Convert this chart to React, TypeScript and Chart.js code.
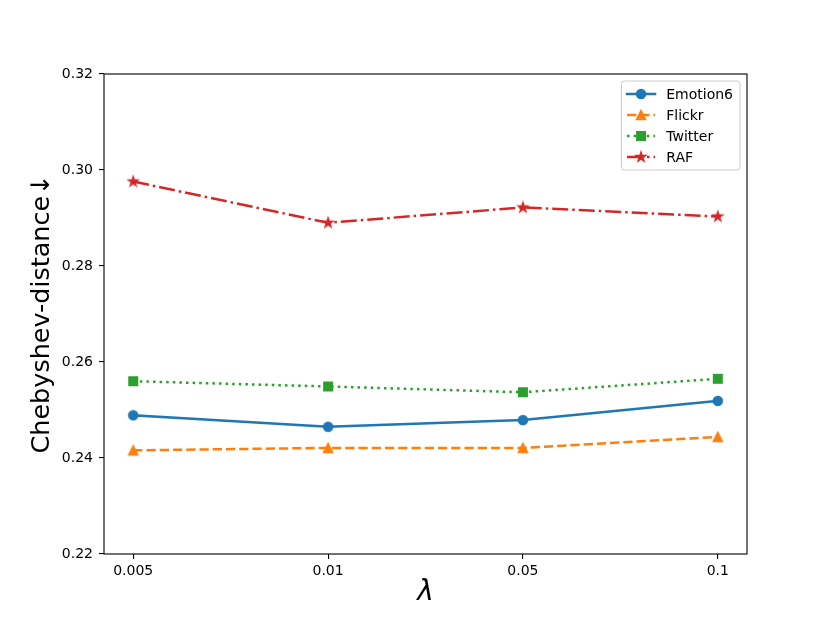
import React, { useEffect, useRef } from "react";
import { Chart, registerables } from "chart.js";

Chart.register(...registerables);

const lambdaLabels = ["0.005", "0.01", "0.05", "0.1"];
const yTickValues = [0.22, 0.24, 0.26, 0.28, 0.3, 0.32];
const emotion6 = [0.2489, 0.2465, 0.2479, 0.2519];
const flickr = [0.2416, 0.2421, 0.2421, 0.2444];
const twitter = [0.256, 0.2549, 0.2537, 0.2565];
const raf = [0.2976, 0.289, 0.2922, 0.2903];

const seriesNames = ["Emotion6", "Flickr", "Twitter", "RAF"];
const seriesColors = ["#1f77b4", "#ff7f0e", "#2ca02c", "#d62728"];
const seriesMarkers = ["circle", "triangle", "square", "star"];
const seriesDashes: number[][] = [[], [9.25, 4], [2.5, 4.1], [16, 4, 2.5, 4]];

const FONT = "'DejaVu Sans', sans-serif";
const LINE_W = 2.5;

function makeMarker(kind: string, color: string): HTMLCanvasElement {
  const S = 16;
  const c = document.createElement("canvas");
  c.width = S;
  c.height = S;
  const ctx = c.getContext("2d")!;
  const cx = S / 2;
  const cy = S / 2;
  ctx.fillStyle = color;
  ctx.strokeStyle = color;
  ctx.lineWidth = 1.4;
  ctx.lineJoin = "miter";
  ctx.beginPath();
  if (kind === "circle") {
    ctx.arc(cx, cy, 4.6, 0, Math.PI * 2);
  } else if (kind === "triangle") {
    const r = 4.6;
    ctx.moveTo(cx, cy - r);
    ctx.lineTo(cx - r, cy + r);
    ctx.lineTo(cx + r, cy + r);
    ctx.closePath();
  } else if (kind === "square") {
    const r = 4.3;
    ctx.rect(cx - r, cy - r, 2 * r, 2 * r);
  } else {
    const r = 5;
    const inner = r * 0.381966;
    for (let i = 0; i < 10; i++) {
      const rad = i % 2 === 0 ? r : inner;
      const a = -Math.PI / 2 + (i * Math.PI) / 5;
      const px = cx + rad * Math.cos(a);
      const py = cy + rad * Math.sin(a);
      if (i === 0) ctx.moveTo(px, py);
      else ctx.lineTo(px, py);
    }
    ctx.closePath();
  }
  ctx.fill();
  ctx.stroke();
  return c;
}

export default function App() {
  const ref = useRef<HTMLCanvasElement | null>(null);

  useEffect(() => {
    if (!ref.current) return;
    const values = [emotion6, flickr, twitter, raf];
    const markers = seriesMarkers.map((m, i) => makeMarker(m, seriesColors[i]));

    const datasets = values.map((vals, i) => ({
      label: seriesNames[i],
      data: vals.map((v, j) => ({ x: j, y: v })),
      borderColor: seriesColors[i],
      backgroundColor: seriesColors[i],
      borderWidth: LINE_W,
      borderDash: seriesDashes[i],
      borderCapStyle: (i === 0 ? "square" : "butt") as CanvasLineCap,
      borderJoinStyle: "round" as CanvasLineJoin,
      pointStyle: markers[i],
      pointRadius: 5,
      pointHoverRadius: 5,
      tension: 0,
      fill: false,
    }));

    const framePlugin = {
      id: "frame",
      afterDatasetsDraw(chart: any) {
        const { ctx, chartArea: a } = chart;
        ctx.save();
        ctx.strokeStyle = "#000";
        ctx.lineWidth = 1.1;
        ctx.strokeRect(a.left, a.top, a.right - a.left, a.bottom - a.top);
        ctx.restore();
      },
    };

    const legendPlugin = {
      id: "mplLegend",
      afterDraw(chart: any) {
        const { ctx, chartArea: a } = chart;
        ctx.save();
        ctx.font = `14px ${FONT}`;
        const maxW = Math.max(...seriesNames.map((n) => ctx.measureText(n).width));
        const padL = 5.6;
        const padR = 7;
        const handle = 28;
        const textPad = 11.2;
        const w = padL + handle + textPad + maxW + padR;
        const h = 89;
        const right = a.right - 7;
        const top = a.top + 7;
        const left = right - w;
        ctx.beginPath();
        if ((ctx as any).roundRect) (ctx as any).roundRect(left, top, w, h, 3);
        else ctx.rect(left, top, w, h);
        ctx.fillStyle = "rgba(255,255,255,0.8)";
        ctx.fill();
        ctx.strokeStyle = "#cccccc";
        ctx.lineWidth = 1;
        ctx.stroke();
        seriesNames.forEach((name, i) => {
          const y = top + 13 + i * 21;
          const x0 = left + padL;
          ctx.beginPath();
          ctx.setLineDash(seriesDashes[i]);
          ctx.lineCap = i === 0 ? "square" : "butt";
          ctx.strokeStyle = seriesColors[i];
          ctx.lineWidth = LINE_W;
          ctx.moveTo(x0, y);
          ctx.lineTo(x0 + handle, y);
          ctx.stroke();
          ctx.setLineDash([]);
          const m = markers[i];
          ctx.drawImage(m, x0 + handle / 2 - m.width / 2, y - m.height / 2);
          ctx.fillStyle = "#000";
          ctx.textBaseline = "middle";
          ctx.textAlign = "left";
          ctx.fillText(name, x0 + handle + textPad, y + 1);
        });
        ctx.restore();
      },
    };

    const chart = new Chart(ref.current, {
      type: "line",
      data: { datasets },
      plugins: [framePlugin, legendPlugin],
      options: {
        animation: false,
        responsive: false,
        events: [],
        layout: { padding: { left: 0, top: 74, right: 83, bottom: 0 } },
        plugins: { legend: { display: false }, tooltip: { enabled: false } },
        scales: {
          x: {
            type: "linear",
            min: -0.15,
            max: lambdaLabels.length - 1 + 0.15,
            afterBuildTicks: (scale: any) => {
              scale.ticks = lambdaLabels.map((_, i) => ({ value: i }));
            },
            afterFit: (scale: any) => {
              scale.height = 69;
            },
            ticks: {
              autoSkip: false,
              maxRotation: 0,
              padding: 4,
              color: "#000",
              font: { family: FONT, size: 14 },
              callback: (v: any) => lambdaLabels[Math.round(Number(v))] ?? "",
            },
            grid: {
              drawOnChartArea: false,
              drawTicks: true,
              tickLength: 5,
              color: "#000",
              lineWidth: 1.1,
            },
            border: { display: false },
            title: {
              display: true,
              text: "λ",
              color: "#000",
              font: { family: FONT, size: 28, style: "italic" },
              padding: { top: 0, bottom: 13 },
            },
          },
          y: {
            type: "linear",
            min: yTickValues[0],
            max: yTickValues[yTickValues.length - 1],
            afterBuildTicks: (scale: any) => {
              scale.ticks = yTickValues.map((v) => ({ value: v }));
            },
            afterFit: (scale: any) => {
              scale.width = 104;
            },
            ticks: {
              padding: 6,
              color: "#000",
              font: { family: FONT, size: 14 },
              callback: (v: any) => Number(v).toFixed(2),
            },
            grid: {
              drawOnChartArea: false,
              drawTicks: true,
              tickLength: 5,
              color: "#000",
              lineWidth: 1.1,
            },
            border: { display: false },
            title: {
              display: true,
              text: "Chebyshev-distance↓",
              color: "#000",
              font: { family: FONT, size: 25.5 },
              padding: { top: 27, bottom: 0 },
            },
          },
        },
      },
    } as any);

    return () => chart.destroy();
  }, []);

  return (
    <div style={{ position: "fixed", left: 0, top: 0, width: 830, height: 623, background: "#fff" }}>
      <canvas ref={ref} width={830} height={623} />
    </div>
  );
}
